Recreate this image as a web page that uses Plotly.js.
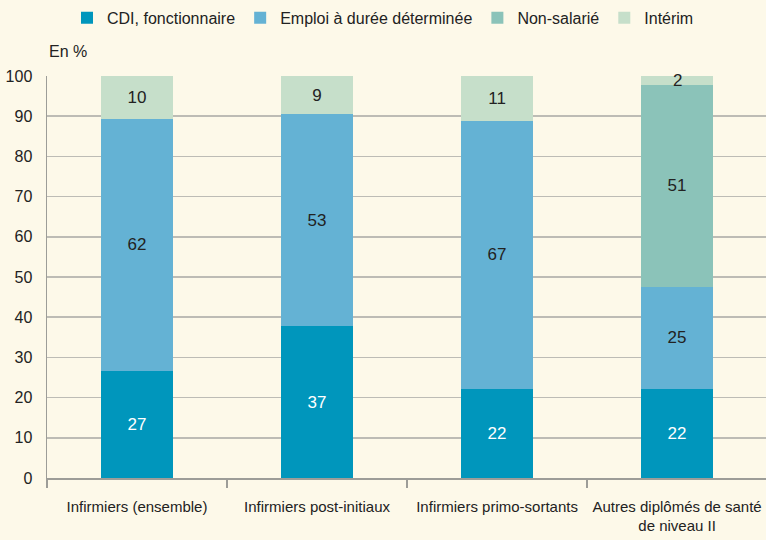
<!DOCTYPE html>
<html>
<head>
<meta charset="utf-8">
<script src="https://cdn.plot.ly/plotly-3.0.1.min.js"></script>
<style>
  html, body { margin: 0; padding: 0; background: #fdf9e9; }
  #chart { width: 766px; height: 540px; }
</style>
</head>
<body>
<div id="chart"></div>
<script>
// categories on the x axis
const categories = [
    'Infirmiers (ensemble)',
    'Infirmiers post-initiaux',
    'Infirmiers primo-sortants',
    'Autres diplômés de santé<br>de niveau II'
];

// segment heights (%)
const cdi = [26.7, 37.7, 22.2, 22.2];
const dureeDeterminee = [62.6, 52.8, 66.7, 25.3];
const nonSalarie = [0, 0, 0, 50.3];
const interim = [10.7, 9.5, 11.1, 2.2];

// labels printed on the bars
const cdiLabels = ['27', '37', '22', '22'];
const dureeLabels = ['62', '53', '67', '25'];
const nonSalarieLabels = ['', '', '', '51'];
const interimLabels = ['10', '9', '11', '2'];

const FONT = '"Liberation Sans", Arial, sans-serif';

function makeTrace(name, values, labels, color, textColor) {
    return {
        type: 'bar',
        name: name,
        x: categories,
        y: values,
        text: labels,
        textposition: 'inside',
        insidetextanchor: 'middle',
        textfont: { family: FONT, size: 17, color: textColor },
        marker: { color: color },
        width: 0.4,
        hoverinfo: 'name+y'
    };
}

// the interim segment of the last bar is too thin for its label:
// it is written as an annotation centred on that segment
const interimShown = interimLabels.map((t, i) => interim[i] < 5 ? '' : t);
const thinLabels = [];
interim.forEach((v, i) => {
    if (v < 5) {
        const base = cdi[i] + dureeDeterminee[i] + nonSalarie[i];
        thinLabels.push({
            text: interimLabels[i],
            x: categories[i],
            y: base + v / 2,
            xref: 'x',
            yref: 'y',
            yanchor: 'middle',
            showarrow: false,
            font: { family: FONT, size: 17, color: '#222222' }
        });
    }
});

const data = [
    makeTrace('CDI, fonctionnaire', cdi, cdiLabels, '#0096bc', '#ffffff'),
    makeTrace('Emploi à durée déterminée', dureeDeterminee, dureeLabels, '#64b2d4', '#222222'),
    makeTrace('Non-salarié', nonSalarie, nonSalarieLabels, '#8bc3b9', '#222222'),
    makeTrace('Intérim', interim, interimShown, '#c6dfca', '#222222')
];

const layout = {
    width: 766,
    height: 540,
    barmode: 'stack',
    paper_bgcolor: '#fdf9e9',
    plot_bgcolor: '#fdf9e9',
    font: { family: FONT, size: 15, color: '#222222' },
    margin: { l: 47, r: 0, t: 76, b: 62, autoexpand: false },
    uniformtext: { mode: 'show', minsize: 17 },
    showlegend: true,
    legend: {
        orientation: 'h',
        x: 0.5,
        xanchor: 'center',
        xref: 'container',
        y: 0.967,
        yanchor: 'middle',
        yref: 'container',
        font: { family: FONT, size: 16, color: '#222222' },
        traceorder: 'normal',
        bgcolor: 'rgba(0,0,0,0)'
    },
    xaxis: {
        range: [-0.5, 3.494],
        showline: true,
        linecolor: '#9d9d98',
        linewidth: 1.5,
        ticks: 'outside',
        tickson: 'boundaries',
        ticklen: 8,
        tickcolor: '#9d9d98',
        tickwidth: 1.5,
        tickangle: 0,
        ticklabelstandoff: 14,
        showgrid: false,
        automargin: false,
        tickfont: { family: FONT, size: 15, color: '#222222' },
        fixedrange: true
    },
    yaxis: {
        range: [0, 100],
        dtick: 10,
        showline: true,
        linecolor: '#9d9d98',
        linewidth: 1.5,
        showgrid: true,
        gridcolor: '#bdbcb5',
        gridwidth: 1.5,
        zeroline: false,
        ticks: '',
        ticklabelstandoff: 10,
        automargin: false,
        tickfont: { family: FONT, size: 16, color: '#222222' },
        fixedrange: true
    },
    annotations: [{
        text: 'En %',
        xref: 'paper',
        yref: 'paper',
        x: 0,
        y: 1.035,
        xanchor: 'left',
        yanchor: 'bottom',
        showarrow: false,
        font: { family: FONT, size: 16, color: '#222222' }
    }].concat(thinLabels)
};

Plotly.newPlot('chart', data, layout, { displayModeBar: false, staticPlot: true });
</script>
</body>
</html>
